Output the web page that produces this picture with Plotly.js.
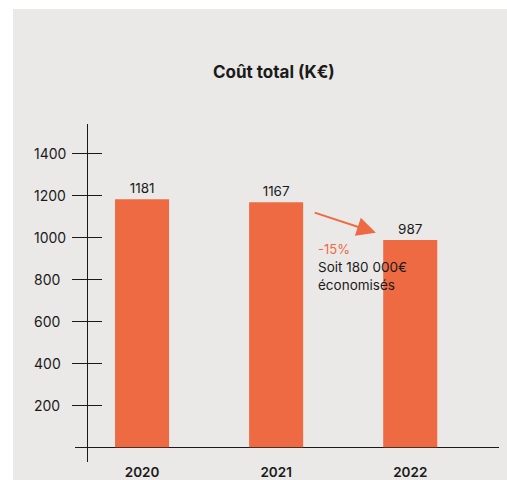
<!DOCTYPE html>
<html>
<head>
<meta charset="utf-8">
<script src="https://cdn.plot.ly/plotly-3.0.1.min.js"></script>
<style>
  html, body { margin: 0; padding: 0; background: #ffffff; }
  #chart { position: absolute; left: 13px; top: 9px; width: 494px; height: 471px; }
</style>
</head>
<body>
<div id="chart"></div>
<script>
// ---- data ----
const years = ['2020', '2021', '2022'];
const costs = [1181, 1167, 987];
const yTickVals = [200, 400, 600, 800, 1000, 1200, 1400];
const yTickLabels = ['200', '400', '600', '800', '1000', '1200', '1400'];
const titleText = 'Coût total (K€)';
const changeText = '-15%';
const savingText = 'Soit 180 000€<br>économisés';

// ---- style ----
const FONT = 'Inter, "Noto Sans", Roboto, sans-serif';
const BAR = '#ee6a43';
const BG = '#eae9e7';
const INK = '#1a1a1a';

const trace = {
  type: 'bar',
  x: years,
  y: costs,
  width: 0.403,
  marker: { color: BAR },
  texttemplate: '%{y}',
  textposition: 'outside',
  textfont: { family: FONT, size: 13.5, color: INK },
  cliponaxis: false,
  hoverinfo: 'skip'
};
// invisible trace to carry inner ticks on the overlaid axis
const ghost = {
  type: 'scatter', x: [years[0]], y: [costs[0]], yaxis: 'y2',
  mode: 'markers', marker: { opacity: 0 }, showlegend: false, hoverinfo: 'skip'
};

const annotations = yTickVals.map((v, i) => ({
  xref: 'paper', yref: 'y', x: -0.1015, y: v,
  xanchor: 'left', yanchor: 'middle',
  text: yTickLabels[i], showarrow: false,
  font: { family: FONT, size: 14, color: INK }
}));

annotations.push({
  xref: 'x', yref: 'y', axref: 'x', ayref: 'y',
  x: 1.744, y: 1022, ax: 1.276, ay: 1120,
  text: '', showarrow: true,
  arrowhead: 2, arrowsize: 1.9, arrowwidth: 2, arrowcolor: BAR, standoff: 0
});
annotations.push({
  xref: 'x', yref: 'y', x: 1.30, y: 945,
  xanchor: 'left', yanchor: 'middle',
  text: changeText, showarrow: false,
  font: { family: FONT, size: 13, color: BAR }
});
annotations.push({
  xref: 'x', yref: 'y', x: 1.30, y: 818,
  xanchor: 'left', yanchor: 'middle', align: 'left',
  text: savingText, showarrow: false,
  font: { family: FONT, size: 13.5, color: INK }
});

const yRange = [-70, 1540];

const layout = {
  width: 494, height: 471,
  paper_bgcolor: BG, plot_bgcolor: BG,
  margin: { l: 62, r: 8, t: 115, b: 18, pad: 0 },
  showlegend: false,
  title: {
    text: '<b>' + titleText + '</b>',
    x: 0.528, xanchor: 'center', xref: 'container',
    y: 1 - 63 / 471, yanchor: 'middle', yref: 'container',
    font: { family: FONT, size: 17, color: INK }
  },
  xaxis: {
    type: 'category',
    range: [-0.5, 2.662],
    showline: false, showgrid: false, zeroline: false,
    ticks: '', automargin: false,
    tickfont: { family: FONT, size: 13.5, color: INK, weight: 600 },
    fixedrange: true
  },
  yaxis: {
    range: yRange,
    anchor: 'free', position: 0.0283,
    showline: true, linecolor: INK, linewidth: 1.3,
    showgrid: false,
    zeroline: true, zerolinecolor: INK, zerolinewidth: 1.6,
    tickvals: yTickVals, showticklabels: false,
    ticks: 'outside', ticklen: 15, tickwidth: 1.3, tickcolor: INK,
    automargin: false, fixedrange: true
  },
  yaxis2: {
    range: yRange, overlaying: 'y',
    anchor: 'free', position: 0.0283, side: 'left',
    showline: false, showgrid: false, zeroline: false,
    tickvals: yTickVals, showticklabels: false,
    ticks: 'inside', ticklen: 14, tickwidth: 1.3, tickcolor: INK,
    automargin: false, fixedrange: true
  },
  annotations: annotations
};

Plotly.newPlot('chart', [trace, ghost], layout, { displayModeBar: false, staticPlot: true });
</script>
</body>
</html>
